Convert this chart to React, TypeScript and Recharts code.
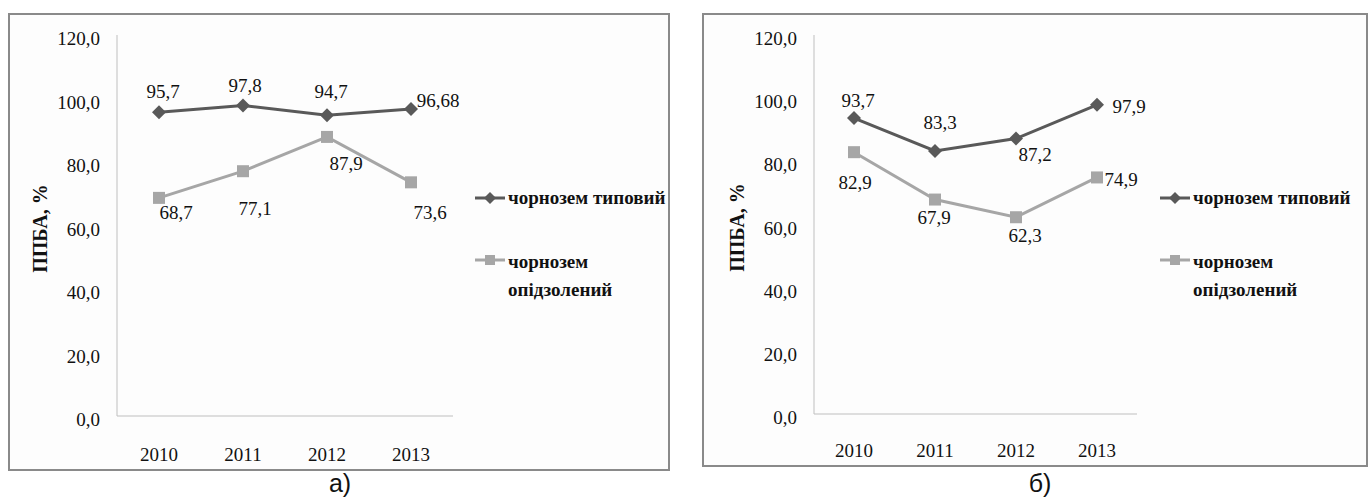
import React from 'react';
import { LineChart, Line, XAxis, YAxis, Legend, LabelList } from 'recharts';

const years = ['2010', '2011', '2012', '2013'];
const typicalA = [95.7, 97.8, 94.7, 96.68];
const podzolA = [68.7, 77.1, 87.9, 73.6];
const typicalB = [93.7, 83.3, 87.2, 97.9];
const podzolB = [82.9, 67.9, 62.3, 74.9];
const yTicks = [0, 20, 40, 60, 80, 100, 120];
const seriesNames = ['чорнозем типовий', 'чорнозем опідзолений'];
const yLabel = 'ППБА, %';
const captions = ['а)', 'б)'];

// label placement (dx, dy from the point), per panel / series
const labelOffsA = {
  typical: [[4, -21], [2, -20], [4, -24], [27, -9]],
  podzol: [[17, 14], [12, 37], [19, 26], [19, 30]],
};
const labelOffsB = {
  typical: [[4, -18], [5, -29], [19, 16], [32, 2]],
  podzol: [[1, 30], [-1, 18], [9, 18], [24, 2]],
};

const SERIF = "'Liberation Serif', 'Times New Roman', 'DejaVu Serif', serif";
const DARK = '#595959';
const LIGHT = '#a6a6a6';
const AXIS = '#bfbfbf';
const LEGEND_W = 220;

const fmt = (v: number) => String(v).replace('.', ',');

const Diamond = (p: any) => {
  const { cx, cy } = p;
  if (cx == null || cy == null) return null;
  return <path d={`M${cx},${cy - 7}L${cx + 7},${cy}L${cx},${cy + 7}L${cx - 7},${cy}Z`} fill={DARK} />;
};

const Square = (p: any) => {
  const { cx, cy } = p;
  if (cx == null || cy == null) return null;
  return <rect x={cx - 6} y={cy - 6} width={12} height={12} fill={LIGHT} />;
};

const makeLabel = (offs: number[][]) => (p: any) => {
  const { x, y, value, index } = p;
  const [dx, dy] = offs[index] || [0, 0];
  return (
    <text x={x + dx} y={y + dy} dy="0.35em" textAnchor="middle" style={{ fontFamily: SERIF }} fontSize={19} fill="#111">
      {fmt(value)}
    </text>
  );
};

const YTick = (p: any) => {
  const { x, y, payload } = p;
  return (
    <text x={x} y={y + 10} textAnchor="end" style={{ fontFamily: SERIF }} fontSize={19} fill="#111">
      {payload.value.toFixed(1).replace('.', ',')}
    </text>
  );
};

const XTickA = (p: any) => (
  <text x={p.x} y={p.y + 37} textAnchor="middle" style={{ fontFamily: SERIF }} fontSize={19} fill="#111">
    {p.payload.value}
  </text>
);
const XTickB = (p: any) => (
  <text x={p.x} y={p.y + 35} textAnchor="middle" style={{ fontFamily: SERIF }} fontSize={19} fill="#111">
    {p.payload.value}
  </text>
);

const LegendBox = (props: any) => {
  const items = [...(props.payload || [])].sort(
    (a: any, b: any) => seriesNames.indexOf(a.value) - seriesNames.indexOf(b.value)
  );
  return (
    <div style={{ fontFamily: SERIF, fontWeight: 'bold', fontSize: 19, color: '#111', width: LEGEND_W }}>
      {items.map((it: any, i: number) => {
        const dark = it.value === seriesNames[0];
        const ly = dark ? 14 : 12;
        return (
          <div key={i} style={{ display: 'flex', alignItems: 'flex-start', marginTop: i === 0 ? 0 : 36 }}>
            <svg width={33} height={28} style={{ flex: 'none' }}>
              <line x1={0} y1={ly} x2={30} y2={ly} stroke={dark ? DARK : LIGHT} strokeWidth={3} />
              {dark ? (
                <path d={`M15,${ly - 6}L21,${ly}L15,${ly + 6}L9,${ly}Z`} fill={DARK} />
              ) : (
                <rect x={10} y={ly - 5} width={10} height={10} fill={LIGHT} />
              )}
            </svg>
            <div style={{ width: 176, lineHeight: '28px' }}>{it.value}</div>
          </div>
        );
      })}
    </div>
  );
};

type PanelProps = {
  left: number;
  width: number;
  margin: { top: number; left: number; right: number; bottom: number };
  pad: number;
  typical: number[];
  podzol: number[];
  offs: { typical: number[][]; podzol: number[][] };
  XTick: any;
  legendLeft: number;
};

const Panel = ({ left, width, margin, pad, typical, podzol, offs, XTick, legendLeft }: PanelProps) => {
  const data = years.map((y, i) => ({ year: y, typical: typical[i], podzol: podzol[i] }));
  // legend sits on the right and eats LEGEND_W of the right margin
  const m = { ...margin, right: margin.right - LEGEND_W, left: margin.left - 1, bottom: margin.bottom - 1 };
  return (
    <div style={{ position: 'absolute', left, top: 0, width, height: 480 }}>
      <LineChart width={width} height={480} data={data} margin={m} style={{ overflow: 'visible' }}>
        <XAxis
          dataKey="year"
          height={1}
          padding={{ left: pad, right: pad }}
          axisLine={{ stroke: AXIS }}
          tickLine={false}
          tick={<XTick />}
        />
        <YAxis
          width={1}
          domain={[0, 120]}
          ticks={yTicks}
          axisLine={{ stroke: AXIS }}
          tickLine={false}
          tickSize={0}
          tickMargin={17}
          tick={<YTick />}
          label={{
            content: (lp: any) => {
              const vb = lp.viewBox || { x: 0, y: 0, height: 0 };
              const cx = margin.left - 77;
              const cy = vb.y + vb.height / 2 + 3;
              return (
                <text
                  x={cx}
                  y={cy}
                  transform={`rotate(-90 ${cx} ${cy})`}
                  textAnchor="middle"
                  dy="0.35em"
                  style={{ fontFamily: SERIF }}
                  fontWeight="bold"
                  fontSize={20}
                  fill="#111"
                >
                  {yLabel}
                </text>
              );
            },
          }}
        />
        <Legend
          layout="vertical"
          align="right"
          verticalAlign="middle"
          content={<LegendBox />}
          wrapperStyle={{ position: 'absolute', left: legendLeft, top: 184, width: LEGEND_W }}
        />
        <Line
          dataKey="typical"
          name={seriesNames[0]}
          stroke={DARK}
          strokeWidth={3}
          dot={<Diamond />}
          activeDot={false}
          isAnimationActive={false}
        >
          <LabelList dataKey="typical" content={makeLabel(offs.typical)} />
        </Line>
        <Line
          dataKey="podzol"
          name={seriesNames[1]}
          stroke={LIGHT}
          strokeWidth={3}
          dot={<Square />}
          activeDot={false}
          isAnimationActive={false}
        >
          <LabelList dataKey="podzol" content={makeLabel(offs.podzol)} />
        </Line>
      </LineChart>
    </div>
  );
};

const capStyle: React.CSSProperties = {
  position: 'absolute',
  top: 468,
  transform: 'translateX(-50%)',
  fontFamily: "'Liberation Sans', Arial, sans-serif",
  fontSize: 25,
  lineHeight: '30px',
  color: '#111',
};

export default function App() {
  return (
    <div style={{ position: 'absolute', left: 0, top: 0, width: 1369, height: 500, background: '#fff', overflow: 'hidden' }}>
      <div style={{ position: 'absolute', left: 8, top: 13, width: 658, height: 454, border: '2px solid #8a8a8a', background: '#fdfdfd' }} />
      <div style={{ position: 'absolute', left: 702, top: 13, width: 662, height: 450, border: '2px solid #8a8a8a', background: '#fdfdfd' }} />
      <Panel
        left={0}
        width={680}
        margin={{ top: 35, left: 117, right: 227, bottom: 64 }}
        pad={42}
        typical={typicalA}
        podzol={podzolA}
        offs={labelOffsA}
        XTick={XTickA}
        legendLeft={475}
      />
      <Panel
        left={690}
        width={679}
        margin={{ top: 35, left: 124, right: 232, bottom: 66 }}
        pad={40}
        typical={typicalB}
        podzol={podzolB}
        offs={labelOffsB}
        XTick={XTickB}
        legendLeft={470}
      />
      <div style={{ ...capStyle, left: 340 }}>{captions[0]}</div>
      <div style={{ ...capStyle, left: 1040 }}>{captions[1]}</div>
    </div>
  );
}
